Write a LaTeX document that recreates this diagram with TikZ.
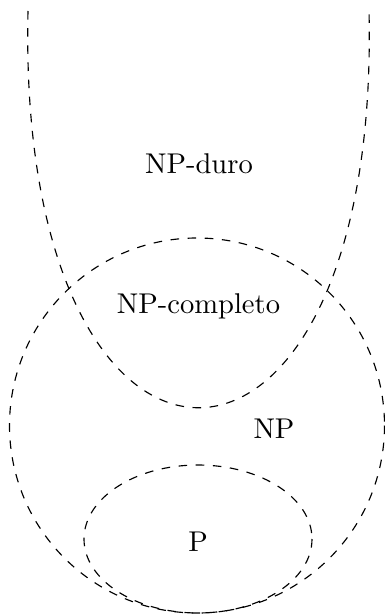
\documentclass[tikz,border=0pt]{standalone}
\begin{document}
\begin{tikzpicture}[x=0.35pt,y=-0.35pt,
  setline/.style={dashed,line width=0.4pt},
  lbl/.style={anchor=base,inner sep=0pt}]
\useasboundingbox (0,0) rectangle (384,614);
% NP-hard U curve
\draw[setline] (28,11) .. controls (16,540) and (381,540) .. (369,11);
% NP circle
\draw[setline] (197,425.5) circle[radius=187.5];
% P ellipse
\draw[setline] (198,539) ellipse[x radius=114,y radius=74];
\node[lbl] (npduro) at (199,173) {NP-duro};
\node[lbl] (npcompleto) at (198.5,313) {NP-completo};
\node[lbl] (np) at (274,438) {NP};
\node[lbl] (p) at (198,551) {P};
\end{tikzpicture}
\end{document}
